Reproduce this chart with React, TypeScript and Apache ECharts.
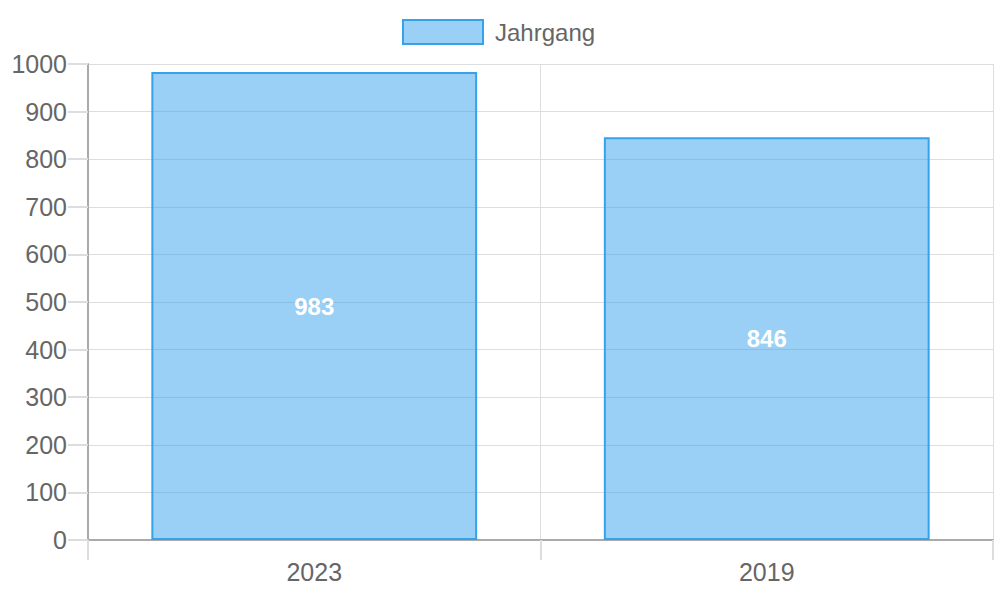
import React, { useEffect, useRef } from "react";
import * as echarts from "echarts";

const categories = ["2023", "2019"];
const values = [983, 846];
const seriesName = "Jahrgang";

export default function App() {
  const ref = useRef<HTMLDivElement>(null);
  useEffect(() => {
    if (!ref.current) return;
    const chart = echarts.init(ref.current, undefined, { renderer: "svg" });
    const font = "'Liberation Sans', Arial, Helvetica, sans-serif";
    chart.setOption({
      animation: false,
      textStyle: { fontFamily: font },
      legend: {
        data: [{ name: seriesName, icon: "rect" }],
        top: 19,
        left: 402,
        padding: 0,
        itemWidth: 80,
        itemHeight: 24,
        itemGap: 12,
        itemStyle: { borderWidth: 2, borderColor: "rgb(54,162,235)", color: "rgba(54,162,235,0.5)" },
        textStyle: { fontSize: 24, color: "#666", fontFamily: font, padding: [0, 0, 0, 7] },
      },
      grid: { left: 88, right: 7, top: 64, bottom: 60 },
      xAxis: {
        type: "category",
        data: categories,
        boundaryGap: true,
        axisLine: { show: true, lineStyle: { color: "#aaa", width: 2 } },
        axisTick: { show: true, length: 20, lineStyle: { color: "#ddd", width: 2 } },
        splitLine: { show: true, lineStyle: { color: "#ddd", width: 1 } },
        axisLabel: { fontSize: 25, color: "#666", margin: 19, fontFamily: font },
      },
      yAxis: {
        type: "value",
        min: 0,
        max: 1000,
        interval: 100,
        axisLine: { show: true, lineStyle: { color: "#aaa", width: 2 } },
        axisTick: { show: true, length: 20, lineStyle: { color: "#ddd", width: 2 } },
        splitLine: { show: true, lineStyle: { color: "#ddd", width: 1 } },
        axisLabel: {
          fontSize: 25,
          color: "#666",
          margin: 21,
          fontFamily: font,
          formatter: (v: number) => String(v),
        },
      },
      series: [
        {
          name: seriesName,
          type: "bar",
          data: values,
          barWidth: "72%",
          itemStyle: {
            color: "rgba(54,162,235,0.5)",
            borderColor: "rgb(54,162,235)",
            borderWidth: 2,
          },
          label: {
            show: true,
            position: "inside",
            color: "#fff",
            fontWeight: "bold",
            fontSize: 24,
            fontFamily: font,
          },
        },
      ],
    });
    return () => chart.dispose();
  }, []);
  return (
    <div
      ref={ref}
      style={{ position: "fixed", left: 0, top: 0, width: 1000, height: 600, background: "#fff" }}
    />
  );
}
